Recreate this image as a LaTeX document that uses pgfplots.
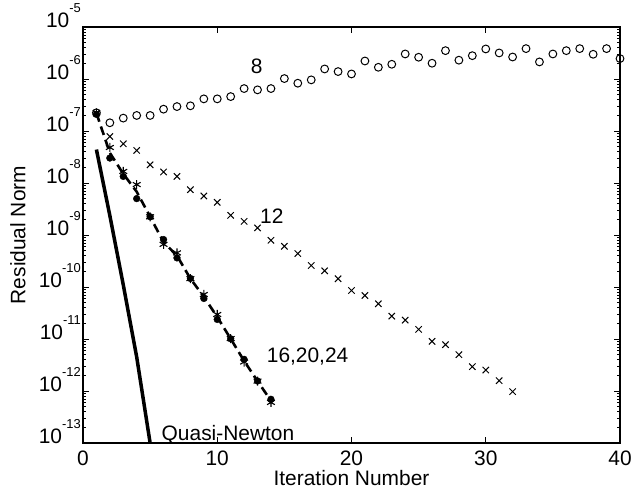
\documentclass[border=0pt]{standalone}
\usepackage{fontspec}
\setmainfont{Liberation Sans}
\usepackage{pgfplots}
\pgfplotsset{compat=1.18}
\begin{document}
\begin{tikzpicture}[font=\fontsize{21}{25}\selectfont]
\begin{axis}[
  at={(0,0)}, anchor=south west,
  scale only axis, width=537bp, height=416bp,
  xmin=0, xmax=40, ymin=1e-13, ymax=1e-5,
  ymode=log, log basis y=10,
  xtick={0,10,20,30,40},
  ytick={1e-13,1e-12,1e-11,1e-10,1e-9,1e-8,1e-7,1e-6,1e-5},
  minor ytick={2e-13,3e-13,4e-13,5e-13,6e-13,7e-13,8e-13,9e-13,
    2e-12,3e-12,4e-12,5e-12,6e-12,7e-12,8e-12,9e-12,
    2e-11,3e-11,4e-11,5e-11,6e-11,7e-11,8e-11,9e-11,
    2e-10,3e-10,4e-10,5e-10,6e-10,7e-10,8e-10,9e-10,
    2e-9,3e-9,4e-9,5e-9,6e-9,7e-9,8e-9,9e-9,
    2e-8,3e-8,4e-8,5e-8,6e-8,7e-8,8e-8,9e-8,
    2e-7,3e-7,4e-7,5e-7,6e-7,7e-7,8e-7,9e-7,
    2e-6,3e-6,4e-6,5e-6,6e-6,7e-6,8e-6,9e-6},
  tick pos=both, tick align=inside,
  major tick length=6bp, minor tick length=3.5bp,
  axis line style={line width=1.1bp},
  every tick/.style={black, line width=0.8bp},
  every minor tick/.style={black, line width=0.7bp},
  /pgf/number format/assume math mode=true,
  xticklabel={\pgfmathtruncatemacro\xt{round(\tick)}\xt},
  xticklabel style={yshift=-4bp},
  yticklabel={\pgfmathtruncatemacro\myexp{round(\tick)}10\raisebox{0.72em}{\fontsize{13}{13}\selectfont\myexp}},
  yticklabel style={yshift=11bp, inner sep=2bp},
  xlabel={Iteration Number}, ylabel={Residual Norm},
  xlabel style={at={(axis description cs:0.5,-0.084)}, anchor=center},
  ylabel style={at={(axis description cs:-0.121,0.5)}, anchor=center},
  clip mode=individual,
]
% 8
\addplot[only marks, mark=o, mark size=3.9bp, mark options={line width=1bp}] coordinates {
(1,2.24e-7)(2,1.44e-7)(3,1.77e-7)(4,1.99e-7)(5,1.99e-7)(6,2.63e-7)(7,2.95e-7)(8,3.05e-7)
(9,4.15e-7)(10,4.15e-7)(11,4.59e-7)(12,6.55e-7)(13,6.18e-7)(14,6.55e-7)(15,1.02e-6)
(16,8.30e-7)(17,9.62e-7)(18,1.56e-6)(19,1.39e-6)(20,1.25e-6)(21,2.22e-6)(22,1.68e-6)
(23,1.92e-6)(24,3.03e-6)(25,2.62e-6)(26,2.01e-6)(27,3.51e-6)(28,2.30e-6)(29,2.81e-6)
(30,3.78e-6)(31,3.17e-6)(32,2.65e-6)(33,3.84e-6)(34,2.13e-6)(35,3.03e-6)(36,3.51e-6)
(37,3.84e-6)(38,2.99e-6)(39,3.84e-6)(40,2.47e-6)};
% 12
\addplot[only marks, mark=x, mark size=4.5bp, mark options={line width=1bp}] coordinates {
(1,2.2e-7)(2,7.83e-8)(3,5.68e-8)(4,4.23e-8)(5,2.24e-8)(6,1.63e-8)(7,1.34e-8)(8,7.43e-9)
(9,5.62e-9)(10,4.25e-9)(11,2.39e-9)(12,1.83e-9)(13,1.37e-9)(14,7.91e-10)(15,6.07e-10)
(16,4.40e-10)(17,2.59e-10)(18,2.05e-10)(19,1.44e-10)(20,8.57e-11)(21,6.87e-11)
(22,4.76e-11)(23,2.75e-11)(24,2.31e-11)(25,1.53e-11)(26,9.00e-12)(27,7.78e-12)
(28,5.00e-12)(29,2.94e-12)(30,2.53e-12)(31,1.58e-12)(32,9.73e-13)};
% 16 (dashed)
\addplot[dash pattern=on 9bp off 5bp, line width=2.6bp] coordinates {
(1,2.2e-7)(2,3.8e-8)(3,1.5e-8)(4,6.8e-9)(5,2.24e-9)(6,7.3e-10)(7,4.0e-10)(8,1.45e-10)
(9,6.5e-11)(10,2.65e-11)(11,1.01e-11)(12,3.8e-12)(13,1.55e-12)(14,6.5e-13)};
% 20
\addplot[only marks, mark=asterisk, mark size=4.5bp, mark options={line width=1.1bp}] coordinates {
(1,2.24e-7)(2,4.82e-8)(3,1.67e-8)(4,9.33e-9)(5,2.24e-9)(6,6.61e-10)(7,4.53e-10)(8,1.45e-10)
(9,7.18e-11)(10,2.96e-11)(11,1.02e-11)(12,3.61e-12)(13,1.55e-12)(14,6.03e-13)};
% 24
\addplot[only marks, mark=*, mark size=3.4bp] coordinates {
(1,2.09e-7)(2,3.02e-8)(3,1.34e-8)(4,5.01e-9)(5,2.24e-9)(6,8.17e-10)(7,3.63e-10)(8,1.46e-10)
(9,6.03e-11)(10,2.38e-11)(11,1.01e-11)(12,4.06e-12)(13,1.56e-12)(14,6.93e-13)};
% Quasi-Newton
\addplot[line width=3.5bp] coordinates {
(1,4.4e-8)(2,2.36e-9)(3,1.1e-10)(4,4.5e-12)(5,1e-13)};
\node at (axis cs:12.94,1.78e-6) {8};
\node at (axis cs:14.06,2.35e-9) {12};
\node at (axis cs:16.73,4.7e-12) {16,20,24};
\node at (axis cs:10.8,1.41e-13) {Quasi-Newton};
\end{axis}
\pgfresetboundingbox
\path (-83bp,-48bp) rectangle (548bp,443bp);
\end{tikzpicture}
\end{document}
